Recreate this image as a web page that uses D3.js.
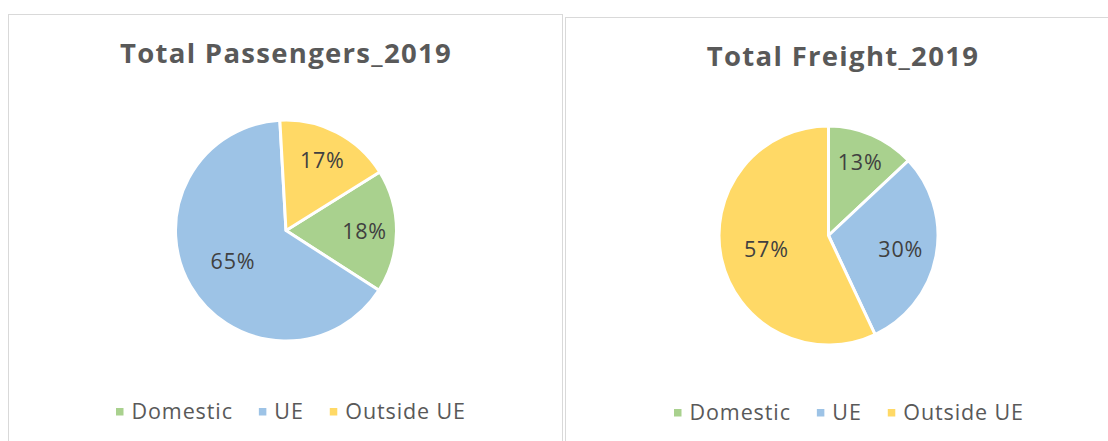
<!DOCTYPE html>
<html>
<head>
<meta charset="utf-8">
<script src="https://cdn.jsdelivr.net/npm/d3@7"></script>
<style>
  html, body { margin: 0; padding: 0; background: #fff; }
  svg { display: block; }
</style>
</head>
<body>
<svg id="chart" width="1108" height="441"></svg>
<script>
// ---- data ----
const categories = ["Domestic", "UE", "Outside UE"];
const passengers2019 = [18, 65, 17];
const freight2019 = [13, 30, 57];
const chartTitles = ["Total Passengers_2019", "Total Freight_2019"];
const sliceColors = ["#A9D18E", "#9DC3E6", "#FFD966"];

const svg = d3.select("#chart");
const FONT = "'Open Sans', 'DejaVu Sans', sans-serif";

const panels = [
  { x: 8.5, y: 14.5, w: 554, h: 440, title: chartTitles[0], values: passengers2019,
    cx: 286, cy: 230.5, r: 110.5, startDeg: 58, titleX: 286, titleY: 63, legendX: 116, legendY: 419 },
  { x: 565.5, y: 17.5, w: 560, h: 440, title: chartTitles[1], values: freight2019,
    cx: 828.5, cy: 235.5, r: 109.5, startDeg: 0, titleX: 843, titleY: 66, legendX: 674, legendY: 420 }
];

const color = d3.scaleOrdinal().domain(categories).range(sliceColors);

panels.forEach(p => {
  const g = svg.append("g");
  g.append("rect")
    .attr("x", p.x).attr("y", p.y).attr("width", p.w).attr("height", p.h)
    .attr("fill", "#fff").attr("stroke", "#d9d9d9").attr("stroke-width", 1);

  g.append("text")
    .attr("x", p.titleX).attr("y", p.titleY)
    .attr("text-anchor", "middle")
    .attr("font-family", FONT).attr("font-weight", 700).attr("font-size", 27.5)
    .attr("letter-spacing", 1.3)
    .attr("fill", "#595959")
    .text(p.title);

  const data = categories.map((c, i) => ({ cat: c, value: p.values[i] }));
  const total = d3.sum(data, d => d.value);
  const start = p.startDeg * Math.PI / 180;
  const pie = d3.pie().value(d => d.value).sort(null)
    .startAngle(start).endAngle(start + 2 * Math.PI);
  const arcs = pie(data);
  const arc = d3.arc().innerRadius(0).outerRadius(p.r);

  const pg = g.append("g").attr("transform", `translate(${p.cx},${p.cy})`);
  pg.selectAll("path").data(arcs).join("path")
    .attr("d", arc)
    .attr("fill", d => color(d.data.cat))
    .attr("stroke", "#fff").attr("stroke-width", 3).attr("stroke-linejoin", "round");

  pg.selectAll("text").data(arcs).join("text")
    .attr("transform", d => {
      const f = d.data.value / total;
      const k = 0.77 - 0.33 * f;
      const rr = p.r * k;
      const a = (d.startAngle + d.endAngle) / 2;
      return `translate(${rr * Math.sin(a)},${-rr * Math.cos(a)})`;
    })
    .attr("text-anchor", "middle").attr("dy", "0.36em")
    .attr("font-family", FONT).attr("font-size", 21.5)
    .attr("letter-spacing", 0.8)
    .attr("fill", "#404040")
    .text(d => Math.round(d.data.value / total * 100) + "%");

  // legend
  const lg = g.append("g");
  let x = p.legendX;
  categories.forEach((c, i) => {
    lg.append("rect")
      .attr("x", x).attr("y", p.legendY - 11).attr("width", 7.5).attr("height", 7.5)
      .attr("fill", color(c));
    const t = lg.append("text")
      .attr("x", x + 15.5).attr("y", p.legendY)
      .attr("font-family", FONT).attr("font-size", 21.5)
      .attr("letter-spacing", 0.9)
      .attr("fill", "#595959")
      .text(c);
    const w = t.node().getComputedTextLength();
    x += 15.5 + w + 26;
  });
});
</script>
</body>
</html>
